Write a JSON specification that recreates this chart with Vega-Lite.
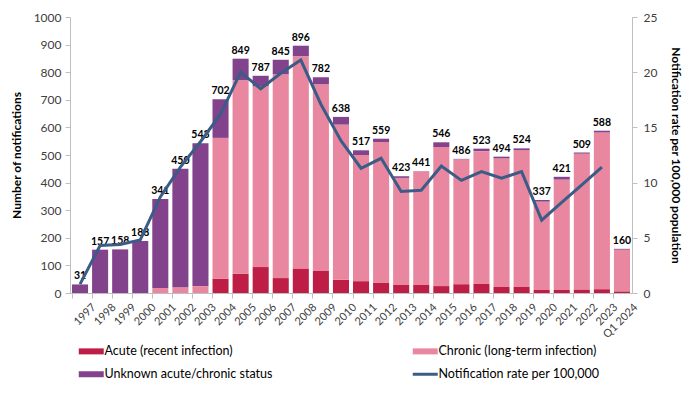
{
  "$schema": "https://vega.github.io/schema/vega-lite/v6.json",
  "autosize": "none",
  "width": 562,
  "height": 276,
  "padding": {"left": 70, "top": 17, "right": 55, "bottom": 104},
  "config": {
    "font": "Lato",
    "view": {"stroke": null},
    "axis": {"labelFont": "Lato", "titleFont": "Lato", "labelColor": "#404040", "titleColor": "#000000", "domainColor": "#BFBFBF", "tickColor": "#BFBFBF", "grid": false}
  },
  "datasets": {
    "bars": [
      {"year": "1997", "status": "Unknown acute/chronic status", "n": 31, "o": 3},
      {"year": "1998", "status": "Unknown acute/chronic status", "n": 157, "o": 3},
      {"year": "1999", "status": "Unknown acute/chronic status", "n": 158, "o": 3},
      {"year": "2000", "status": "Unknown acute/chronic status", "n": 188, "o": 3},
      {"year": "2001", "status": "Chronic (long-term infection)", "n": 18, "o": 2},
      {"year": "2001", "status": "Unknown acute/chronic status", "n": 323, "o": 3},
      {"year": "2002", "status": "Chronic (long-term infection)", "n": 21, "o": 2},
      {"year": "2002", "status": "Unknown acute/chronic status", "n": 429, "o": 3},
      {"year": "2003", "status": "Chronic (long-term infection)", "n": 25, "o": 2},
      {"year": "2003", "status": "Unknown acute/chronic status", "n": 518, "o": 3},
      {"year": "2004", "status": "Acute (recent infection)", "n": 52, "o": 1},
      {"year": "2004", "status": "Chronic (long-term infection)", "n": 510, "o": 2},
      {"year": "2004", "status": "Unknown acute/chronic status", "n": 140, "o": 3},
      {"year": "2005", "status": "Acute (recent infection)", "n": 70, "o": 1},
      {"year": "2005", "status": "Chronic (long-term infection)", "n": 701, "o": 2},
      {"year": "2005", "status": "Unknown acute/chronic status", "n": 78, "o": 3},
      {"year": "2006", "status": "Acute (recent infection)", "n": 94, "o": 1},
      {"year": "2006", "status": "Chronic (long-term infection)", "n": 655, "o": 2},
      {"year": "2006", "status": "Unknown acute/chronic status", "n": 38, "o": 3},
      {"year": "2007", "status": "Acute (recent infection)", "n": 54, "o": 1},
      {"year": "2007", "status": "Chronic (long-term infection)", "n": 738, "o": 2},
      {"year": "2007", "status": "Unknown acute/chronic status", "n": 53, "o": 3},
      {"year": "2008", "status": "Acute (recent infection)", "n": 89, "o": 1},
      {"year": "2008", "status": "Chronic (long-term infection)", "n": 769, "o": 2},
      {"year": "2008", "status": "Unknown acute/chronic status", "n": 38, "o": 3},
      {"year": "2009", "status": "Acute (recent infection)", "n": 80, "o": 1},
      {"year": "2009", "status": "Chronic (long-term infection)", "n": 676, "o": 2},
      {"year": "2009", "status": "Unknown acute/chronic status", "n": 26, "o": 3},
      {"year": "2010", "status": "Acute (recent infection)", "n": 48, "o": 1},
      {"year": "2010", "status": "Chronic (long-term infection)", "n": 562, "o": 2},
      {"year": "2010", "status": "Unknown acute/chronic status", "n": 28, "o": 3},
      {"year": "2011", "status": "Acute (recent infection)", "n": 43, "o": 1},
      {"year": "2011", "status": "Chronic (long-term infection)", "n": 457, "o": 2},
      {"year": "2011", "status": "Unknown acute/chronic status", "n": 17, "o": 3},
      {"year": "2012", "status": "Acute (recent infection)", "n": 38, "o": 1},
      {"year": "2012", "status": "Chronic (long-term infection)", "n": 509, "o": 2},
      {"year": "2012", "status": "Unknown acute/chronic status", "n": 12, "o": 3},
      {"year": "2013", "status": "Acute (recent infection)", "n": 29, "o": 1},
      {"year": "2013", "status": "Chronic (long-term infection)", "n": 388, "o": 2},
      {"year": "2013", "status": "Unknown acute/chronic status", "n": 6, "o": 3},
      {"year": "2014", "status": "Acute (recent infection)", "n": 29, "o": 1},
      {"year": "2014", "status": "Chronic (long-term infection)", "n": 411, "o": 2},
      {"year": "2014", "status": "Unknown acute/chronic status", "n": 1, "o": 3},
      {"year": "2015", "status": "Acute (recent infection)", "n": 25, "o": 1},
      {"year": "2015", "status": "Chronic (long-term infection)", "n": 504, "o": 2},
      {"year": "2015", "status": "Unknown acute/chronic status", "n": 17, "o": 3},
      {"year": "2016", "status": "Acute (recent infection)", "n": 32, "o": 1},
      {"year": "2016", "status": "Chronic (long-term infection)", "n": 452, "o": 2},
      {"year": "2016", "status": "Unknown acute/chronic status", "n": 2, "o": 3},
      {"year": "2017", "status": "Acute (recent infection)", "n": 33, "o": 1},
      {"year": "2017", "status": "Chronic (long-term infection)", "n": 481, "o": 2},
      {"year": "2017", "status": "Unknown acute/chronic status", "n": 9, "o": 3},
      {"year": "2018", "status": "Acute (recent infection)", "n": 22, "o": 1},
      {"year": "2018", "status": "Chronic (long-term infection)", "n": 466, "o": 2},
      {"year": "2018", "status": "Unknown acute/chronic status", "n": 6, "o": 3},
      {"year": "2019", "status": "Acute (recent infection)", "n": 22, "o": 1},
      {"year": "2019", "status": "Chronic (long-term infection)", "n": 496, "o": 2},
      {"year": "2019", "status": "Unknown acute/chronic status", "n": 6, "o": 3},
      {"year": "2020", "status": "Acute (recent infection)", "n": 11, "o": 1},
      {"year": "2020", "status": "Chronic (long-term infection)", "n": 320, "o": 2},
      {"year": "2020", "status": "Unknown acute/chronic status", "n": 6, "o": 3},
      {"year": "2021", "status": "Acute (recent infection)", "n": 11, "o": 1},
      {"year": "2021", "status": "Chronic (long-term infection)", "n": 400, "o": 2},
      {"year": "2021", "status": "Unknown acute/chronic status", "n": 10, "o": 3},
      {"year": "2022", "status": "Acute (recent infection)", "n": 13, "o": 1},
      {"year": "2022", "status": "Chronic (long-term infection)", "n": 492, "o": 2},
      {"year": "2022", "status": "Unknown acute/chronic status", "n": 4, "o": 3},
      {"year": "2023", "status": "Acute (recent infection)", "n": 14, "o": 1},
      {"year": "2023", "status": "Chronic (long-term infection)", "n": 568, "o": 2},
      {"year": "2023", "status": "Unknown acute/chronic status", "n": 6, "o": 3},
      {"year": "Q1 2024", "status": "Acute (recent infection)", "n": 6, "o": 1},
      {"year": "Q1 2024", "status": "Chronic (long-term infection)", "n": 151, "o": 2},
      {"year": "Q1 2024", "status": "Unknown acute/chronic status", "n": 3, "o": 3}
    ],
    "totals": [
      {"year": "1997", "total": 31}, {"year": "1998", "total": 157}, {"year": "1999", "total": 158},
      {"year": "2000", "total": 188}, {"year": "2001", "total": 341}, {"year": "2002", "total": 450},
      {"year": "2003", "total": 543}, {"year": "2004", "total": 702}, {"year": "2005", "total": 849},
      {"year": "2006", "total": 787}, {"year": "2007", "total": 845}, {"year": "2008", "total": 896},
      {"year": "2009", "total": 782}, {"year": "2010", "total": 638}, {"year": "2011", "total": 517},
      {"year": "2012", "total": 559}, {"year": "2013", "total": 423}, {"year": "2014", "total": 441},
      {"year": "2015", "total": 546}, {"year": "2016", "total": 486}, {"year": "2017", "total": 523},
      {"year": "2018", "total": 494}, {"year": "2019", "total": 524}, {"year": "2020", "total": 337},
      {"year": "2021", "total": 421}, {"year": "2022", "total": 509}, {"year": "2023", "total": 588},
      {"year": "Q1 2024", "total": 160}
    ],
    "rates": [
      {"year": "1997", "rate": 0.8}, {"year": "1998", "rate": 4.3}, {"year": "1999", "rate": 4.4},
      {"year": "2000", "rate": 4.8}, {"year": "2001", "rate": 8.7}, {"year": "2002", "rate": 11.4},
      {"year": "2003", "rate": 13.7}, {"year": "2004", "rate": 16.2}, {"year": "2005", "rate": 20.0},
      {"year": "2006", "rate": 18.5}, {"year": "2007", "rate": 19.9}, {"year": "2008", "rate": 21.1},
      {"year": "2009", "rate": 17.1}, {"year": "2010", "rate": 13.8}, {"year": "2011", "rate": 11.3},
      {"year": "2012", "rate": 12.2}, {"year": "2013", "rate": 9.2}, {"year": "2014", "rate": 9.3},
      {"year": "2015", "rate": 11.5}, {"year": "2016", "rate": 10.2}, {"year": "2017", "rate": 11.0},
      {"year": "2018", "rate": 10.4}, {"year": "2019", "rate": 11.0}, {"year": "2020", "rate": 6.6},
      {"year": "2021", "rate": 8.2}, {"year": "2022", "rate": 9.8}, {"year": "2023", "rate": 11.4}
    ]
  },
  "encoding": {
    "x": {
      "field": "year", "type": "nominal", "sort": null,
      "scale": {"paddingInner": 0.2, "paddingOuter": 0.1},
      "axis": {"title": null, "labelAngle": -45, "labelFontSize": 11, "labelColor": "#404040", "bandPosition": 0, "labelOffset": 10, "tickSize": 5, "labelPadding": 3, "domainColor": "#BFBFBF"}
    }
  },
  "layer": [
    {
      "encoding": {
        "y": {"type": "quantitative",
          "scale": {"domain": [0, 1000]},
          "axis": {"title": "Number of notifications", "format": "d", "titleFontSize": 12, "titleFontWeight": "bold", "labelFontSize": 12, "tickCount": 10, "tickSize": 5, "titlePadding": 10, "labelPadding": 4}}
      },
      "layer": [
        {
          "data": {"name": "bars"},
          "mark": {"type": "bar"},
          "encoding": {
            "y": {"field": "n", "type": "quantitative", "stack": "zero"},
            "order": {"field": "o", "type": "quantitative"},
            "color": {"field": "status", "type": "nominal",
              "scale": {"domain": ["Acute (recent infection)", "Unknown acute/chronic status", "Chronic (long-term infection)", "Notification rate per 100,000"],
                        "range": ["#BE1E45", "#82428C", "#E8879F", "#3B5C87"]},
              "legend": {"title": null, "orient": "none", "legendX": 15, "legendY": 328, "columns": 2, "columnPadding": 133, "rowPadding": 10,
                "labelFontSize": 12.5, "labelFont": "Lato", "labelColor": "#000000", "labelOffset": 7, "labelLimit": 400, "symbolSize": 625, "padding": 0,
                "symbolStrokeWidth": 0,
                "encode": {"symbols": {"update": {
                  "shape": {"signal": "datum.value === 'Notification rate per 100,000' ? 'M-1,0H1' : 'M-1,-0.24H1V0.24H-1Z'"},
                  "strokeWidth": {"signal": "datum.value === 'Notification rate per 100,000' ? 3 : 0"},
                  "stroke": {"signal": "datum.value === 'Notification rate per 100,000' ? '#3B5C87' : null"}
                }}}}}
          }
        },
        {
          "data": {"name": "totals"},
          "mark": {"type": "text", "fontWeight": "bold", "fontSize": 10.5, "baseline": "bottom", "dy": -3, "color": "#000000"},
          "encoding": {
            "y": {"field": "total", "type": "quantitative"},
            "text": {"field": "total", "type": "quantitative"}
          }
        }
      ]
    },
    {
      "data": {"name": "rates"},
      "mark": {"type": "line", "strokeWidth": 3},
      "encoding": {
        "y": {"field": "rate", "type": "quantitative",
          "scale": {"domain": [0, 25]},
          "axis": {"orient": "right", "title": "Notification rate per 100,000 population", "titleFontSize": 12, "titleFontWeight": "bold", "labelFontSize": 12, "tickCount": 5, "tickSize": 5, "titlePadding": 12, "labelPadding": 6}},
        "color": {"datum": "Notification rate per 100,000"}
      }
    }
  ],
  "resolve": {"scale": {"y": "independent"}}
}
